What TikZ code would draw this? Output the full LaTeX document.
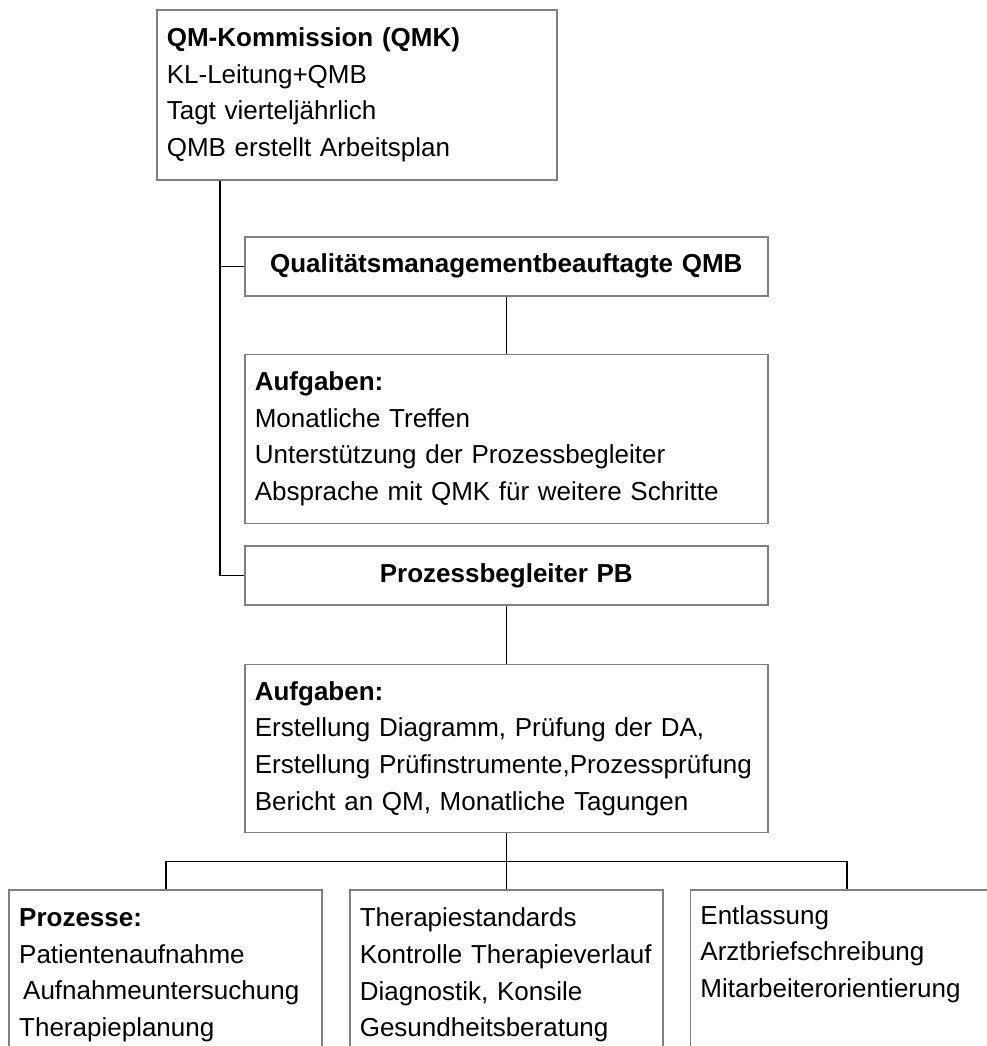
\documentclass[tikz,border=0pt]{standalone}
\usepackage{fontspec}
\setmainfont{Liberation Sans}
\usetikzlibrary{positioning,calc}
\newcommand{\Kopf}[1]{\textbf{#1}}
\tikzset{
    every node/.append style={font=\fontsize{26}{36.7}\selectfont},
    kasten/.style={rectangle,draw=black!50,line width=1.6pt,fill=white,inner xsep=10pt,inner ysep=0pt,align=left},
    spalte/.style={kasten,minimum width=523pt,text width=503pt},
    titel/.style={kasten,minimum width=523pt,text width=503pt,minimum height=59pt,align=center,font=\fontsize{26}{36.7}\selectfont\bfseries},
    unten/.style={kasten,minimum width=313pt,text width=293pt,minimum height=170pt},
    verb/.style={draw=black,line width=1.6pt},
}
\begin{document}
\begin{tikzpicture}[x=1pt,y=-1pt]
    \useasboundingbox (0,0) rectangle (987,1046);
    \clip (0,0) rectangle (987,1046);

    \node[kasten,anchor=north west,minimum width=400pt,text width=380pt,minimum height=170pt] (qmk) at (156,9) {
        \Kopf{QM-Kommission (QMK)}\\
        KL-Leitung+QMB\\
        Tagt vierteljährlich\\
        QMB erstellt Arbeitsplan};

    \node[titel,anchor=north west] (qmb) at (244,236) {Qualitätsmanagementbeauftagte QMB};
    \node[spalte,below=57pt of qmb,minimum height=169pt] (auf1) {
        \Kopf{Aufgaben:}\\
        Monatliche Treffen\\
        Unterstützung der Prozessbegleiter\\
        Absprache mit QMK für weitere Schritte};
    \node[titel,below=21pt of auf1] (pb) {Prozessbegleiter PB};
    \node[spalte,below=58pt of pb,minimum height=168pt] (auf2) {
        \Kopf{Aufgaben:}\\
        Erstellung Diagramm, Prüfung der DA,\\
        Erstellung Prüfinstrumente,Prozessprüfung\\
        Bericht an QM, Monatliche Tagungen};

    % Prozesse
    \node[unten,below=56pt of auf2] (p2) {
        Therapiestandards\\
        Kontrolle Therapieverlauf\\
        Diagnostik, Konsile\\
        Gesundheitsberatung};
    \node[unten,left=26pt of p2] (p1) {
        \Kopf{Prozesse:}\\
        Patientenaufnahme\\
        \hspace*{4pt}Aufnahmeuntersuchung\\
        Therapieplanung};
    \node[unten,right=26pt of p2] (p3) {
        Entlassung\\
        Arztbriefschreibung\\
        Mitarbeiterorientierung\\
        \strut};

    % Verbindungen
    \coordinate (sp) at ($(qmk.south west)+(64,0)$);
    \draw[verb] (sp) |- (pb.west);
    \draw[verb] (sp |- qmb.west) -- (qmb.west);
    \draw[verb] (qmb.south) -- (auf1.north);
    \draw[verb] (pb.south) -- (auf2.north);
    \draw[verb] (auf2.south) -- (p2.north);
    \draw[verb] (p1.north) -- ++(0,-28) -| (p3.north);
\end{tikzpicture}
\end{document}
